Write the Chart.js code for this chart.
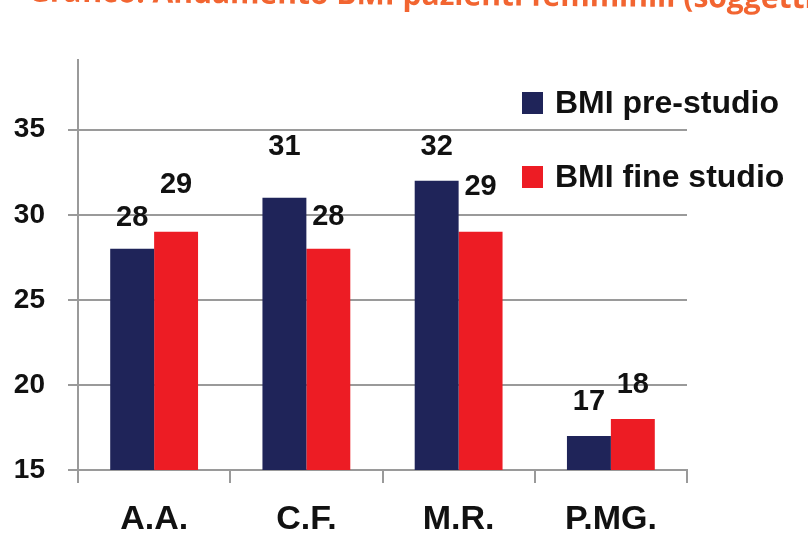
<!DOCTYPE html>
<html>
<head>
<meta charset="utf-8">
<title>BMI pre-studio / fine studio</title>
<script src="https://cdn.jsdelivr.net/npm/chart.js@4/dist/chart.umd.min.js"></script>
<style>
  html, body { margin: 0; padding: 0; background: #fff; }
  #wrap { width: 808px; height: 552px; position: relative; }
</style>
</head>
<body>
<div id="wrap"><canvas id="bmiChart" width="808" height="552"></canvas></div>
<script>
/*====== data =======*/
const patients = ['A.A.', 'C.F.', 'M.R.', 'P.MG.'];
const bmiPre = [28, 31, 32, 17];
const bmiFine = [29, 28, 29, 18];
const yTicks = [15, 20, 25, 30, 35];
const seriesNames = ['BMI pre-studio', 'BMI fine studio'];
const titleText = 'Grafico: Andamento BMI pazienti femminili (soggetti';

/*====== style =======*/
const NAVY = '#1f2459';
const RED = '#ed1c24';
const GRID = '#9a9a9a';
const FONT = '"Liberation Sans", Arial, sans-serif';
// how far above the bar top each value label sits (px), per series
const labelLift = [[31, 51, 34, 34], [47, 32, 45, 34]];

/*====== plugins =======*/
const extras = {
  id: 'extras',
  afterDatasetsDraw(chart) {
    const ctx = chart.ctx;
    ctx.save();
    // value labels
    ctx.font = 'bold 29px ' + FONT;
    ctx.fillStyle = '#111';
    ctx.textAlign = 'center';
    ctx.textBaseline = 'middle';
    chart.data.datasets.forEach((ds, i) => {
      chart.getDatasetMeta(i).data.forEach((bar, j) => {
        ctx.fillText(ds.data[j], bar.x, bar.y - labelLift[i][j]);
      });
    });
    // legend
    const rows = [103, 177];
    chart.data.datasets.forEach((ds, i) => {
      ctx.fillStyle = ds.backgroundColor;
      ctx.fillRect(522, rows[i] - 11, 21, 22);
      ctx.fillStyle = '#111';
      ctx.textAlign = 'left';
      ctx.font = 'bold 32px ' + FONT;
      ctx.fillText(ds.label, 555, rows[i] + 1);
    });
    // title, cut off by the top edge and slightly tilted like the scan
    ctx.font = 'bold 30px "Open Sans", sans-serif';
    ctx.fillStyle = '#f26531';
    ctx.textBaseline = 'alphabetic';
    ctx.translate(28, 1.5);
    ctx.rotate(0.0084);
    ctx.fillText(titleText, 0, 0);
    ctx.restore();
  }
};

/*====== chart =======*/
const data = {
  labels: patients,
  datasets: [
    { label: seriesNames[0], data: bmiPre, backgroundColor: NAVY },
    { label: seriesNames[1], data: bmiFine, backgroundColor: RED }
  ]
};

const config = {
  type: 'bar',
  data: data,
  options: {
    responsive: false,
    animation: false,
    layout: { padding: { top: 60, right: 121, left: 0, bottom: 0 } },
    datasets: { bar: { categoryPercentage: 0.577, barPercentage: 1.0 } },
    plugins: { legend: { display: false }, tooltip: { enabled: false } },
    scales: {
      x: {
        grid: { drawOnChartArea: false, drawTicks: true, tickLength: 13, color: GRID, lineWidth: 2 },
        border: { color: GRID, width: 2 },
        ticks: { color: '#111', font: { family: FONT, size: 34, weight: 'bold' }, padding: 16 },
        afterFit(scale) { scale.height = 82; }
      },
      y: {
        min: 15,
        max: 39.1,
        grid: { color: GRID, lineWidth: 2, tickLength: 10 },
        border: { color: GRID, width: 2 },
        ticks: { color: '#111', font: { family: FONT, size: 28, weight: 'bold' }, padding: 23 },
        afterBuildTicks(scale) { scale.ticks = yTicks.map(v => ({ value: v })); },
        afterFit(scale) { scale.width = 78; }
      }
    }
  },
  plugins: [extras]
};

const myChart = new Chart(document.getElementById('bmiChart'), config);
</script>
</body>
</html>
